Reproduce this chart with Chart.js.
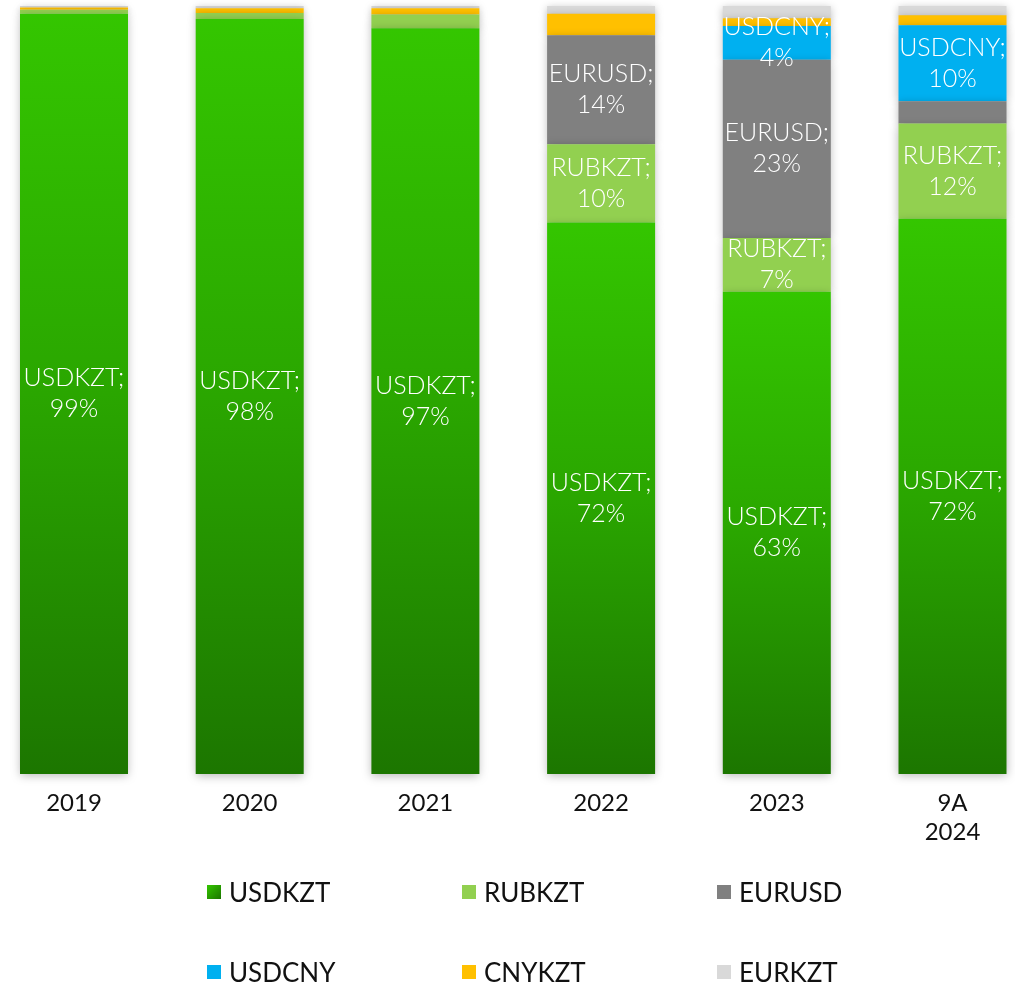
<!DOCTYPE html>
<html>
<head>
<meta charset="utf-8">
<title>Currency pair structure</title>
<script src="https://cdn.jsdelivr.net/npm/chart.js@4/dist/chart.umd.min.js"></script>
<style>
  html, body { margin: 0; padding: 0; background: #ffffff; }
  #wrap { position: relative; width: 1015px; height: 985px; }
  #chart { position: absolute; left: 0; top: 0; }
  #legend { position: absolute; left: 207px; top: 870px; width: 780px;
            display: grid; grid-template-columns: 255px 255px 255px; grid-auto-rows: 80px;
            font-family: Lato, "Open Sans", sans-serif; font-size: 26px; color: #111; }
  .item { display: flex; align-items: center; height: 44px; }
  .swatch { width: 14px; height: 14px; margin-right: 8px; flex: none; }
</style>
</head>
<body>
<div id="wrap">
  <canvas id="chart" width="1015" height="985"></canvas>
  <div id="legend"></div>
</div>
<script>
// Share of trading volume by currency pair, % per year
const categories = [['2019'], ['2020'], ['2021'], ['2022'], ['2023'], ['9A', '2024']];
const seriesNames = ['USDKZT', 'RUBKZT', 'EURUSD', 'USDCNY', 'CNYKZT', 'EURKZT'];
const usdkzt = [99.0, 98.3, 97.1, 71.8, 62.8, 72.3];
const rubkzt = [0.5, 0.8, 1.8, 10.2, 7.0, 12.4];
const eurusd = [0, 0, 0, 14.2, 23.2, 2.9];
const usdcny = [0, 0, 0, 0, 4.4, 9.9];
const cnykzt = [0.3, 0.6, 0.8, 2.8, 1.0, 1.3];
const eurkzt = [0.2, 0.3, 0.3, 1.0, 1.6, 1.2];
const seriesValues = [usdkzt, rubkzt, eurusd, usdcny, cnykzt, eurkzt];
const seriesColors = ['#2fb800', '#92d050', '#808080', '#00b0f0', '#ffc000', '#d9d9d9'];

// USDKZT bars fade from bright green at their top to dark green at the base
function greenFill(context) {
  const chart = context.chart;
  const y = chart.scales && chart.scales.y;
  if (!y || !chart.chartArea || context.type !== 'data') return seriesColors[0];
  const top = y.getPixelForValue(context.raw);
  const base = y.getPixelForValue(0);
  const g = chart.ctx.createLinearGradient(0, top, 0, base);
  g.addColorStop(0, '#34c600');
  g.addColorStop(0.5, '#2aa600');
  g.addColorStop(1, '#1c7600');
  return g;
}

const datasets = seriesNames.map((name, i) => ({
  label: name,
  data: seriesValues[i],
  backgroundColor: i === 0 ? greenFill : seriesColors[i],
  borderWidth: 0,
  clip: false
}));

// Soft outer shadow under each bar segment
const barShadow = {
  id: 'barShadow',
  beforeDatasetDraw(chart) {
    const ctx = chart.ctx;
    ctx.save();
    ctx.shadowColor = 'rgba(0,0,0,0.28)';
    ctx.shadowBlur = 9;
    ctx.shadowOffsetX = 0;
    ctx.shadowOffsetY = 2;
  },
  afterDatasetDraw(chart) {
    chart.ctx.restore();
  }
};

// "NAME;\nNN%" labels centred in the larger segments
const segmentLabels = {
  id: 'segmentLabels',
  afterDatasetsDraw(chart) {
    const ctx = chart.ctx;
    ctx.save();
    ctx.fillStyle = '#ffffff';
    ctx.font = '300 25px "Lato Light", Lato, "Open Sans", sans-serif';
    ctx.textAlign = 'center';
    ctx.textBaseline = 'middle';
    chart.data.datasets.forEach((ds, di) => {
      const meta = chart.getDatasetMeta(di);
      meta.data.forEach((bar, idx) => {
        const v = ds.data[idx];
        if (v < 4) return;
        const p = bar.getProps(['x', 'y', 'base'], true);
        const cy = (p.y + p.base) / 2;
        ctx.fillText(ds.label + ';', p.x, cy - 15.5);
        ctx.fillText(Math.round(v) + '%', p.x, cy + 15.5);
      });
    });
    ctx.restore();
  }
};

const chart = new Chart(document.getElementById('chart'), {
  type: 'bar',
  data: { labels: categories, datasets },
  plugins: [barShadow, segmentLabels],
  options: {
    responsive: false,
    animation: false,
    devicePixelRatio: 1,
    categoryPercentage: 1,
    barPercentage: 0.6147,
    layout: { padding: { left: 74, right: 62.5, top: 6, bottom: 125 } },
    plugins: { legend: { display: false }, tooltip: { enabled: false } },
    scales: {
      x: {
        stacked: true,
        offset: false,
        grid: { display: false, drawTicks: false },
        border: { display: false },
        ticks: {
          autoSkip: false, maxRotation: 0, padding: 15, color: '#111111',
          font: { family: 'Lato, "Open Sans", sans-serif', size: 24, lineHeight: 1.2 }
        },
        afterFit(scale) { scale.height = 86; }
      },
      y: {
        stacked: true,
        display: false,
        min: 0,
        max: 100
      }
    }
  }
});

// Legend in three columns, built from the chart's datasets
const legend = document.getElementById('legend');
chart.data.datasets.forEach((ds, i) => {
  const item = document.createElement('div');
  item.className = 'item';
  const sw = document.createElement('span');
  sw.className = 'swatch';
  sw.style.background = i === 0 ? 'linear-gradient(135deg, #34c600, #1c7600)' : seriesColors[i];
  const txt = document.createElement('span');
  txt.textContent = ds.label;
  item.appendChild(sw);
  item.appendChild(txt);
  legend.appendChild(item);
});
</script>
</body>
</html>
